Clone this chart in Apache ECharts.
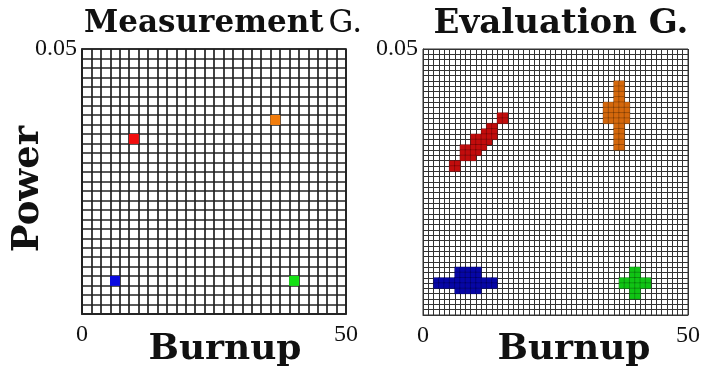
<!DOCTYPE html>
<html>
<head>
<meta charset="utf-8">
<script src="https://cdn.jsdelivr.net/npm/echarts@6/dist/echarts.min.js"></script>
<style>
  html, body { margin: 0; padding: 0; background: #fff; }
  #chart { width: 701px; height: 373px; }
</style>
</head>
<body>
<div id="chart"></div>
<script>
// grid sizes (cells per side)
const measN = 28;
const evalN = 50;

// measurement grid: single cells [col, rowFromBottom]
const measRed = [[5, 18]];
const measOrange = [[20, 20]];
const measBlue = [[3, 3]];
const measGreen = [[22, 3]];

// evaluation grid: runs [rowFromBottom, colStart, colEnd]
const evalRed = [
  [37, 14, 15], [36, 14, 15], [35, 12, 13], [34, 11, 13], [33, 9, 13],
  [32, 9, 12], [31, 7, 11], [30, 7, 10], [29, 7, 9], [28, 5, 6], [27, 5, 6]
];
const evalOrange = [
  [43, 36, 37], [42, 36, 37], [41, 36, 37], [40, 36, 37],
  [39, 34, 38], [38, 34, 38], [37, 34, 38], [36, 34, 38],
  [35, 36, 37], [34, 36, 37], [33, 36, 37], [32, 36, 37], [31, 36, 37]
];
const evalBlue = [
  [8, 6, 10], [7, 6, 10], [6, 2, 13], [5, 2, 13], [4, 6, 10]
];
const evalGreen = [
  [8, 39, 40], [7, 39, 40], [6, 37, 42], [5, 37, 42], [4, 39, 40], [3, 39, 40]
];

const xTicks = ['0', '50'];
const yTicks = ['', '0.05'];

const measColors = { red: '#f20d0d', orange: '#f27d0d', blue: '#0a0ae0', green: '#14e014' };
const evalColors = { red: '#c20c0c', orange: '#d4680c', blue: '#0606a6', green: '#10c414' };

function cellsOf(list, color) {
  return list.map(([c, r]) => ({ value: [c, r, 1], itemStyle: { color } }));
}
function runsOf(list, color) {
  const out = [];
  list.forEach(([r, c0, c1]) => {
    for (let c = c0; c <= c1; c++) out.push({ value: [c, r, 1], itemStyle: { color } });
  });
  return out;
}

const idx = (n) => Array.from({ length: n }, (_, i) => String(i));

const grids = [
  { left: 82, top: 49, width: 264, height: 265, n: measN, line: { color: '#222', width: 1.7 } },
  { left: 423, top: 49, width: 265, height: 266, n: evalN, line: { color: '#333', width: 1 } }
];

const serif = 'DejaVu Serif';
const tickFont = { fontFamily: 'Liberation Serif', fontSize: 24, color: '#111' };

const xAxis = [], yAxis = [];
grids.forEach((g, i) => {
  xAxis.push({
    type: 'category', gridIndex: i, data: idx(g.n), boundaryGap: true,
    axisLine: { show: true, lineStyle: g.line }, axisTick: { show: false }, axisLabel: { show: false },
    splitLine: { show: true, interval: 0, lineStyle: g.line }
  });
  yAxis.push({
    type: 'category', gridIndex: i, data: idx(g.n), boundaryGap: true,
    axisLine: { show: true, lineStyle: g.line }, axisTick: { show: false }, axisLabel: { show: false },
    splitLine: { show: true, interval: 0, lineStyle: g.line }
  });
});
grids.forEach((g, i) => {
  xAxis.push({
    type: 'value', gridIndex: i, min: 0, max: 50, interval: 50, position: 'bottom',
    axisLine: { show: false }, axisTick: { show: false }, splitLine: { show: false },
    axisLabel: { ...tickFont, margin: 9, formatter: (v) => (v === 0 ? xTicks[0] : xTicks[1]) }
  });
  yAxis.push({
    type: 'value', gridIndex: i, min: 0, max: 0.05, interval: 0.05, position: 'left',
    axisLine: { show: false }, axisTick: { show: false }, splitLine: { show: false },
    axisLabel: { ...tickFont, margin: 5, formatter: (v) => (v === 0 ? yTicks[0] : yTicks[1]) }
  });
});

const heat = (gi, data, border) => ({
  type: 'heatmap', xAxisIndex: gi, yAxisIndex: gi, data,
  itemStyle: border ? { borderColor: 'rgba(0,0,0,0.35)', borderWidth: 0.6 } : {},
  emphasis: { disabled: true }, silent: true
});

const chart = echarts.init(document.getElementById('chart'));
chart.setOption({
  animation: false,
  backgroundColor: '#fff',
  title: [
    {
      text: '{b|Measurement} {n|G.}', left: 218, top: 3, textAlign: 'center',
      textStyle: { rich: {
        b: { fontFamily: serif, fontWeight: 'bold', fontSize: 31, color: '#111' },
        n: { fontFamily: serif, fontWeight: 'normal', fontSize: 31, color: '#111' }
      } }
    },
    {
      text: 'Evaluation G.', left: 556, top: 2, textAlign: 'center',
      textStyle: { fontFamily: serif, fontWeight: 'bold', fontSize: 34, color: '#111' }
    },
    {
      text: 'Burnup', left: 220, top: 327, textAlign: 'center',
      textStyle: { fontFamily: serif, fontWeight: 'bold', fontSize: 36, color: '#111' }
    },
    {
      text: 'Burnup', left: 569, top: 327, textAlign: 'center',
      textStyle: { fontFamily: serif, fontWeight: 'bold', fontSize: 36, color: '#111' }
    }
  ],
  graphic: [{
    type: 'text', x: 28, y: 189, rotation: Math.PI / 2,
    style: {
      text: 'Power', fill: '#111', align: 'center', verticalAlign: 'middle',
      font: 'bold 37px "DejaVu Serif"'
    }
  }],
  grid: grids.map((g) => ({
    left: g.left, top: g.top, width: g.width, height: g.height,
    outerBoundsMode: 'none', containLabel: false,
    show: true, backgroundColor: '#fff', borderColor: g.line.color, borderWidth: g.line.width
  })),
  xAxis,
  yAxis,
  series: [
    heat(0, [
      ...cellsOf(measRed, measColors.red), ...cellsOf(measOrange, measColors.orange),
      ...cellsOf(measBlue, measColors.blue), ...cellsOf(measGreen, measColors.green)
    ], false),
    heat(1, [
      ...runsOf(evalRed, evalColors.red), ...runsOf(evalOrange, evalColors.orange),
      ...runsOf(evalBlue, evalColors.blue), ...runsOf(evalGreen, evalColors.green)
    ], true)
  ]
});
</script>
</body>
</html>
